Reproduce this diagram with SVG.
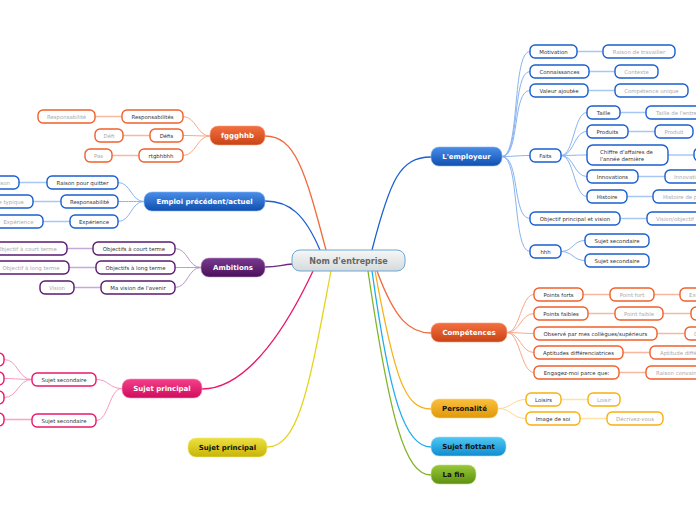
<svg xmlns="http://www.w3.org/2000/svg" width="696" height="520" viewBox="0 0 696 520">
<defs>
<linearGradient id="gC" x1="0" y1="0" x2="0" y2="1"><stop offset="0" stop-color="#f6f8f8"/><stop offset="1" stop-color="#d6dada"/></linearGradient>
<linearGradient id="gB" x1="0" y1="0" x2="0" y2="1"><stop offset="0" stop-color="#4a8ee8"/><stop offset="1" stop-color="#0f4fb0"/></linearGradient>
<linearGradient id="gO" x1="0" y1="0" x2="0" y2="1"><stop offset="0" stop-color="#f47040"/><stop offset="1" stop-color="#c84414"/></linearGradient>
<linearGradient id="gP" x1="0" y1="0" x2="0" y2="1"><stop offset="0" stop-color="#7a3a90"/><stop offset="1" stop-color="#4a105a"/></linearGradient>
<linearGradient id="gK" x1="0" y1="0" x2="0" y2="1"><stop offset="0" stop-color="#f4408a"/><stop offset="1" stop-color="#d00c5c"/></linearGradient>
<linearGradient id="gY" x1="0" y1="0" x2="0" y2="1"><stop offset="0" stop-color="#ece040"/><stop offset="1" stop-color="#c8b408"/></linearGradient>
<linearGradient id="gA" x1="0" y1="0" x2="0" y2="1"><stop offset="0" stop-color="#fac040"/><stop offset="1" stop-color="#e09808"/></linearGradient>
<linearGradient id="gS" x1="0" y1="0" x2="0" y2="1"><stop offset="0" stop-color="#50c8f4"/><stop offset="1" stop-color="#108cd0"/></linearGradient>
<linearGradient id="gG" x1="0" y1="0" x2="0" y2="1"><stop offset="0" stop-color="#98c838"/><stop offset="1" stop-color="#5e9010"/></linearGradient>
</defs>
<style>
text{font-family:"DejaVu Sans",Verdana,sans-serif;}
.mt{font-size:7px;font-weight:bold;text-anchor:middle;}
.w{fill:#fff;}
.k{fill:#111;}
.ct{font-size:5.4px;fill:#333;text-anchor:middle;}
.gt{font-size:5.4px;fill:#aaa;text-anchor:middle;}
.gs{font-size:5.4px;fill:#aaa;}
.c{fill:#fff;stroke-width:1.4;}
.cb{stroke:#1a5fd0;} .co{stroke:#f0602c;} .cp{stroke:#5a1a70;} .ck{stroke:#e8186a;} .ca{stroke:#f8b010;}
path{fill:none;}
.lb{stroke:#1a60d0;stroke-width:1.3;} .lo{stroke:#f06a3c;stroke-width:1.3;} .lp{stroke:#6a2a80;stroke-width:1.3;} .lk{stroke:#e8186a;stroke-width:1.3;} .ly{stroke:#e4d420;stroke-width:1.3;} .la{stroke:#f8b018;stroke-width:1.3;} .ls{stroke:#20acec;stroke-width:1.3;} .lg{stroke:#80b428;stroke-width:1.3;}
.sb{stroke:#8ab4f0;stroke-width:1;} .so{stroke:#f8a888;stroke-width:1;} .sp{stroke:#b898c8;stroke-width:1;} .sk{stroke:#f898c0;stroke-width:1;} .sa{stroke:#fcd890;stroke-width:1;}
.tb{stroke:#a8c8f4;stroke-width:1.6;} .to{stroke:#f8b8a0;stroke-width:1.6;} .tp{stroke:#c8a8d8;stroke-width:1.6;} .tk{stroke:#f8a8c8;stroke-width:1.6;} .ta{stroke:#fce4a8;stroke-width:1.6;}
</style>
<g id="connectors">
<path class="lo" d="M326,250 C305,170 295,136 265,136"/>
<path class="lb" d="M320,250 C305,215 290,201 265,201"/>
<path class="lp" d="M293,264 C280,265 278,267 265,267"/>
<path class="lk" d="M313,271 C290,320 250,389 202,389"/>
<path class="ly" d="M331,271 C310,380 300,447 267,447"/>
<path class="lb" d="M372,250 C390,180 400,157 431,157"/>
<path class="lo" d="M377,271 C395,320 410,333 431,333"/>
<path class="la" d="M375,271 C395,380 405,409 431,409"/>
<path class="ls" d="M372,271 C390,400 405,447 431,447"/>
<path class="lg" d="M368,271 C390,420 405,475 431,475"/>
<path class="so" d="M210,136 C197,136 196,116.5 183,116.5"/>
<path class="so" d="M210,136 C197,136 196,135.5 183,135.5"/>
<path class="so" d="M210,136 C197,136 196,155.5 183,155.5"/>
<path class="to" d="M95,116.5 H122 M123,135.5 H150 M112,155.5 H139"/>
<path class="sb" d="M144,201.5 C131,201.5 131,182.5 118,182.5"/>
<path class="sb" d="M144,201.5 C131,201.5 131,201.5 118,201.5"/>
<path class="sb" d="M144,201.5 C131,201.5 131,221.5 118,221.5"/>
<path class="tb" d="M19,182.5 H47 M33,201.5 H61 M43,221.5 H70"/>
<path class="sp" d="M201,267.5 C188,267.5 188,248.5 175,248.5"/>
<path class="sp" d="M201,267.5 C188,267.5 188,267.5 175,267.5"/>
<path class="sp" d="M201,267.5 C188,267.5 188,287.5 175,287.5"/>
<path class="tp" d="M67,248.5 H93 M69,267.5 H96 M74,287.5 H101"/>
<path class="sk" d="M122,388.5 C109,388.5 109,379.5 96,379.5"/>
<path class="sk" d="M122,388.5 C109,388.5 109,420.5 96,420.5"/>
<path class="sk" d="M32,379.5 C18,379.5 18,359.5 4,359.5"/>
<path class="sk" d="M32,379.5 C18,379.5 18,378.5 4,378.5"/>
<path class="sk" d="M32,379.5 C18,379.5 18,397.5 4,397.5"/>
<path class="tk" d="M4,419.5 H32"/>
<path class="sb" d="M502,156.5 C520,156.5 512,51.5 530,51.5"/>
<path class="sb" d="M502,156.5 C520,156.5 512,71.5 530,71.5"/>
<path class="sb" d="M502,156.5 C520,156.5 512,90.5 530,90.5"/>
<path class="sb" d="M502,156.5 C516,156.5 516,155.5 530,155.5"/>
<path class="sb" d="M502,156.5 C520,156.5 512,218.5 530,218.5"/>
<path class="sb" d="M502,156.5 C520,156.5 512,251.5 530,251.5"/>
<path class="sb" d="M561,155.5 C574,155.5 574,112.5 587,112.5"/>
<path class="sb" d="M561,155.5 C574,155.5 574,131.5 587,131.5"/>
<path class="sb" d="M561,155.5 C574,155.5 574,155 587,155"/>
<path class="sb" d="M561,155.5 C574,155.5 574,176.5 587,176.5"/>
<path class="sb" d="M561,155.5 C574,155.5 574,196.5 587,196.5"/>
<path class="sb" d="M561,251.5 C573,251.5 573,240.5 585,240.5"/>
<path class="sb" d="M561,251.5 C573,251.5 573,260.5 585,260.5"/>
<path class="tb" d="M577,51.5 H603 M589,71.5 H615 M588,90.5 H615 M620,112.5 H646 M628,131.5 H655 M668,155 H694 M638,176.5 H665 M627,196.5 H653 M620,218.5 H647"/>
<path class="so" d="M507,332.5 C520,332.5 521,294.5 534,294.5"/>
<path class="so" d="M507,332.5 C520,332.5 521,313.5 534,313.5"/>
<path class="so" d="M507,332.5 C520,332.5 521,333.5 534,333.5"/>
<path class="so" d="M507,332.5 C520,332.5 521,352.5 534,352.5"/>
<path class="so" d="M507,332.5 C520,332.5 521,372.5 534,372.5"/>
<path class="to" d="M583,294.5 H610 M654,294.5 H680 M588,313.5 H615 M663,313.5 H691 M657,333.5 H685 M623,352.5 H650 M619,372.5 H646"/>
<path class="sa" d="M498,408.5 C512,408.5 512,399.5 526,399.5"/>
<path class="sa" d="M498,408.5 C512,408.5 512,418.5 526,418.5"/>
<path class="ta" d="M561,399.5 H588 M580,418.5 H607"/>
</g>
<g id="center"><rect x="292" y="250" width="113" height="21" rx="8" fill="url(#gC)" stroke="#6aa8d8" stroke-width="1"/><text x="348.5" y="263.5" font-size="8" font-weight="bold" fill="#666" text-anchor="middle">Nom d'entreprise</text></g>
<g id="n-fggghhb"><rect x="210" y="126" width="55" height="19" rx="8" fill="url(#gO)" stroke="#f8a080" stroke-width="0.6"/><text class="mt w" x="237.5" y="138">fggghhb</text></g>
<g id="n-emploi"><rect x="144" y="192" width="121" height="19" rx="8" fill="url(#gB)" stroke="#8ab4f0" stroke-width="0.6"/><text class="mt w" x="204.5" y="204">Emploi précédent/actuel</text></g>
<g id="n-ambitions"><rect x="201" y="258" width="64" height="19" rx="8" fill="url(#gP)" stroke="#b898c8" stroke-width="0.6"/><text class="mt w" x="233" y="270">Ambitions</text></g>
<g id="n-sujet-pink"><rect x="122" y="379" width="80" height="19" rx="8" fill="url(#gK)" stroke="#f898c0" stroke-width="0.6"/><text class="mt w" x="162" y="391">Sujet principal</text></g>
<g id="n-sujet-yellow"><rect x="188" y="438" width="79" height="19" rx="8" fill="url(#gY)" stroke="#f0e880" stroke-width="0.6"/><text class="mt k" x="227.5" y="450">Sujet principal</text></g>
<g id="n-employeur"><rect x="431" y="147" width="71" height="19" rx="8" fill="url(#gB)" stroke="#8ab4f0" stroke-width="0.6"/><text class="mt w" x="466.5" y="159">L'employeur</text></g>
<g id="n-competences"><rect x="431" y="323" width="76" height="19" rx="8" fill="url(#gO)" stroke="#f8a080" stroke-width="0.6"/><text class="mt w" x="469" y="335">Compétences</text></g>
<g id="n-personalite"><rect x="431" y="399" width="67" height="19" rx="8" fill="url(#gA)" stroke="#fcd890" stroke-width="0.6"/><text class="mt k" x="464.5" y="411">Personalité</text></g>
<g id="n-flottant"><rect x="431" y="437" width="75" height="19" rx="8" fill="url(#gS)" stroke="#a0dcf8" stroke-width="0.6"/><text class="mt k" x="468.5" y="449">Sujet flottant</text></g>
<g id="n-lafin"><rect x="431" y="465" width="45" height="19" rx="8" fill="url(#gG)" stroke="#c0e080" stroke-width="0.6"/><text class="mt k" x="453.5" y="477">La fin</text></g>
<g id="orange-children">
<rect class="c co" x="122" y="110" width="61" height="13" rx="5"/><text class="ct" x="152.5" y="118.5">Responsabilités</text>
<rect class="c co" x="150" y="129" width="33" height="13" rx="5"/><text class="ct" x="166.5" y="137.5">Défis</text>
<rect class="c co" x="139" y="149" width="44" height="13" rx="5"/><text class="ct" x="161" y="157.5">rtgbhbhh</text>
<rect class="c co" x="38" y="110" width="57" height="13" rx="5"/><text class="gt" x="66.5" y="118.5">Responsabilité</text>
<rect class="c co" x="95" y="129" width="28" height="13" rx="5"/><text class="gt" x="109" y="137.5">Défi</text>
<rect class="c co" x="85" y="149" width="27" height="13" rx="5"/><text class="gt" x="98.5" y="157.5">Pas</text>
</g>
<g id="emploi-children">
<rect class="c cb" x="47" y="176" width="71" height="13" rx="5"/><text class="ct" x="82.5" y="184.5">Raison pour quitter</text>
<rect class="c cb" x="61" y="195" width="57" height="13" rx="5"/><text class="ct" x="89.5" y="203.5">Responsabilité</text>
<rect class="c cb" x="70" y="215" width="48" height="13" rx="5"/><text class="ct" x="94" y="223.5">Expérience</text>
<rect class="c cb" x="-17" y="176" width="36" height="13" rx="5"/><text class="gt" x="1" y="184.5">Raison</text>
<rect class="c cb" x="-28" y="195" width="61" height="13" rx="5"/><text class="gt" x="2.6" y="203.5">Journée typique</text>
<rect class="c cb" x="-6" y="215" width="49" height="13" rx="5"/><text class="gt" x="18.5" y="223.5">Expérience</text>
</g>
<g id="ambitions-children">
<rect class="c cp" x="93" y="242" width="82" height="13" rx="5"/><text class="ct" x="134" y="250.5">Objectifs à court terme</text>
<rect class="c cp" x="96" y="261" width="79" height="13" rx="5"/><text class="ct" x="135.5" y="269.5">Objectifs à long terme</text>
<rect class="c cp" x="101" y="281" width="74" height="13" rx="5"/><text class="ct" x="138" y="289.5">Ma vision de l'avenir</text>
<rect class="c cp" x="-13" y="242" width="80" height="13" rx="5"/><text class="gt" x="27" y="250.5">Objectif à court terme</text>
<rect class="c cp" x="-7" y="261" width="76" height="13" rx="5"/><text class="gt" x="31" y="269.5">Objectif à long terme</text>
<rect class="c cp" x="40" y="281" width="34" height="13" rx="5"/><text class="gt" x="57" y="289.5">Vision</text>
</g>
<g id="pink-children">
<rect class="c ck" x="32" y="373" width="64" height="13" rx="5"/><text class="ct" x="64" y="381.5">Sujet secondaire</text>
<rect class="c ck" x="32" y="414" width="64" height="13" rx="5"/><text class="ct" x="64" y="422.5">Sujet secondaire</text>
<rect class="c ck" x="-40" y="353" width="44" height="13" rx="5"/>
<rect class="c ck" x="-40" y="372" width="44" height="13" rx="5"/>
<rect class="c ck" x="-40" y="391" width="44" height="13" rx="5"/>
<rect class="c ck" x="-40" y="413" width="44" height="13" rx="5"/>
</g>
<g id="employeur-children">
<rect class="c cb" x="530" y="45" width="47" height="13" rx="5"/><text class="ct" x="553.5" y="53.5">Motivation</text>
<rect class="c cb" x="530" y="65" width="59" height="13" rx="5"/><text class="ct" x="559.5" y="73.5">Connaissances</text>
<rect class="c cb" x="530" y="84" width="58" height="13" rx="5"/><text class="ct" x="559" y="92.5">Valeur ajoutée</text>
<rect class="c cb" x="530" y="149" width="31" height="13" rx="5"/><text class="ct" x="545.5" y="157.5">Faits</text>
<rect class="c cb" x="530" y="212" width="90" height="13" rx="5"/><text class="ct" x="575" y="220.5">Objectif principal et vision</text>
<rect class="c cb" x="530" y="245" width="31" height="13" rx="5"/><text class="ct" x="545.5" y="253.5">hhh</text>
<rect class="c cb" x="587" y="106" width="33" height="13" rx="5"/><text class="ct" x="603.5" y="114.5">Taille</text>
<rect class="c cb" x="587" y="125" width="41" height="13" rx="5"/><text class="ct" x="607.5" y="133.5">Produits</text>
<rect class="c cb" x="587" y="145" width="81" height="20" rx="6"/><text class="ct" x="600" y="154" text-anchor="start" style="text-anchor:start">Chiffre d'affaires de</text><text class="ct" x="600" y="160.5" style="text-anchor:start">l'année dernière</text>
<rect class="c cb" x="587" y="170" width="51" height="13" rx="5"/><text class="ct" x="612.5" y="178.5">Innovations</text>
<rect class="c cb" x="587" y="190" width="40" height="13" rx="5"/><text class="ct" x="607" y="198.5">Histoire</text>
<rect class="c cb" x="585" y="234" width="64" height="13" rx="5"/><text class="ct" x="617" y="242.5">Sujet secondaire</text>
<rect class="c cb" x="585" y="254" width="64" height="13" rx="5"/><text class="ct" x="617" y="262.5">Sujet secondaire</text>
<rect class="c cb" x="603" y="45" width="72" height="13" rx="5"/><text class="gt" x="639" y="53.5">Raison de travailler</text>
<rect class="c cb" x="615" y="65" width="43" height="13" rx="5"/><text class="gt" x="636.5" y="73.5">Contexte</text>
<rect class="c cb" x="615" y="84" width="73" height="13" rx="5"/><text class="gt" x="651.5" y="92.5">Compétence unique</text>
<rect class="c cb" x="646" y="106" width="74" height="13" rx="5"/><text class="gs" x="656" y="114.5">Taille de l'entreprise</text>
<rect class="c cb" x="655" y="125" width="38" height="13" rx="5"/><text class="gt" x="674" y="133.5">Produit</text>
<rect class="c cb" x="694" y="148" width="40" height="13" rx="5"/>
<rect class="c cb" x="665" y="170" width="50" height="13" rx="5"/><text class="gs" x="674" y="178.5">Innovation</text>
<rect class="c cb" x="653" y="190" width="70" height="13" rx="5"/><text class="gs" x="663" y="198.5">Histoire de produit</text>
<rect class="c cb" x="647" y="212" width="70" height="13" rx="5"/><text class="gs" x="656" y="220.5">Vision/objectif</text>
</g>
<g id="competences-children">
<rect class="c co" x="534" y="288" width="49" height="13" rx="5"/><text class="ct" x="558.5" y="296.5">Points forts</text>
<rect class="c co" x="534" y="307" width="54" height="13" rx="5"/><text class="ct" x="561" y="315.5">Points faibles</text>
<rect class="c co" x="534" y="327" width="123" height="13" rx="5"/><text class="ct" x="595.5" y="335.5">Observé par mes collègues/supérieurs</text>
<rect class="c co" x="534" y="346" width="89" height="13" rx="5"/><text class="ct" x="578.5" y="354.5">Aptitudes différenciatrices</text>
<rect class="c co" x="534" y="366" width="85" height="13" rx="5"/><text class="ct" x="576.5" y="374.5">Engagez-moi parce que:</text>
<rect class="c co" x="610" y="288" width="44" height="13" rx="5"/><text class="gt" x="632" y="296.5">Point fort</text>
<rect class="c co" x="680" y="288" width="50" height="13" rx="5"/><text class="gs" x="689" y="296.5">Exemple</text>
<rect class="c co" x="615" y="307" width="48" height="13" rx="5"/><text class="gt" x="639" y="315.5">Point faible</text>
<rect class="c co" x="691" y="307" width="50" height="13" rx="5"/>
<rect class="c co" x="685" y="327" width="50" height="13" rx="5"/><text class="gs" x="694" y="335.5">Opinion</text>
<rect class="c co" x="650" y="346" width="80" height="13" rx="5"/><text class="gs" x="660" y="354.5">Aptitude différenciatrice</text>
<rect class="c co" x="646" y="366" width="80" height="13" rx="5"/><text class="gs" x="656" y="374.5">Raison convaincante</text>
</g>
<g id="personalite-children">
<rect class="c ca" x="526" y="393" width="35" height="13" rx="5"/><text class="ct" x="543.5" y="401.5">Loisirs</text>
<rect class="c ca" x="526" y="412" width="54" height="13" rx="5"/><text class="ct" x="553" y="420.5">Image de soi</text>
<rect class="c ca" x="588" y="393" width="32" height="13" rx="5"/><text class="gt" x="604" y="401.5">Loisir</text>
<rect class="c ca" x="607" y="412" width="56" height="13" rx="5"/><text class="gt" x="635" y="420.5">Décrivez-vous</text>
</g>
</svg>
